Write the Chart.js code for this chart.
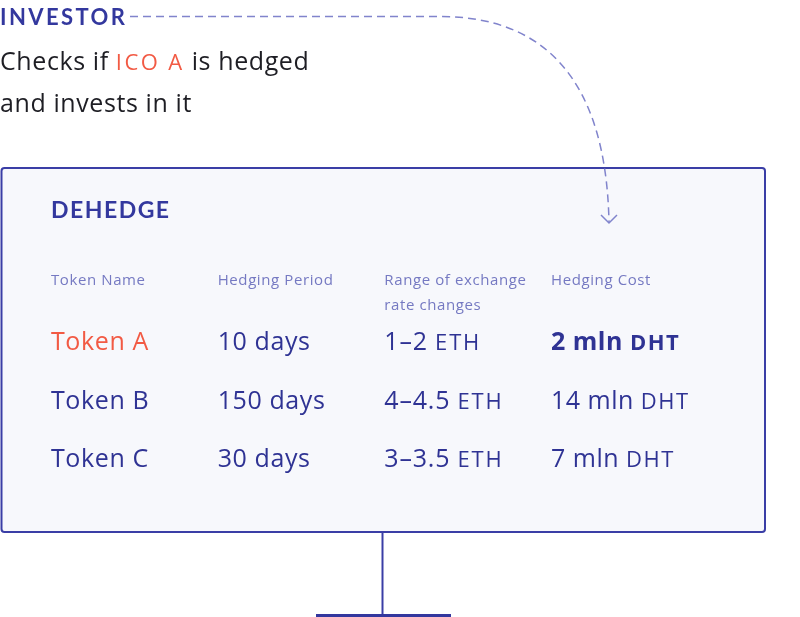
<!DOCTYPE html>
<html>
<head>
<meta charset="utf-8">
<script src="https://cdn.jsdelivr.net/npm/chart.js@4"></script>
<style>
  html, body { margin: 0; padding: 0; background: #ffffff; }
  #table { display: block; }
</style>
</head>
<body>
<canvas id="table" width="800" height="617"></canvas>
<script>
// table content
const columns = ['Token Name', 'Hedging Period', 'Range of exchange rate changes', 'Hedging Cost'];
const headerLines = [['Token Name'], ['Hedging Period'], ['Range of exchange', 'rate changes'], ['Hedging Cost']];
const tokens = ['Token A', 'Token B', 'Token C'];
const periodDays = [10, 150, 30];
const rangeLow = [1, 4, 3];
const rangeHigh = [2, 4.5, 3.5];
const costMln = [2, 14, 7];
const highlighted = 'Token A';

const FONT = '"Open Sans", Lato, sans-serif';
const HEAD = 'Lato, "Open Sans", sans-serif';
const BLUE = '#2f3394';
const LIGHT = '#7579c2';
const RED = '#f25a44';

// draw a list of [text, font, color, spacing] pieces one after another
function drawRun(ctx, x, y, pieces) {
    pieces.forEach(([text, font, color, spacing]) => {
        ctx.font = font;
        ctx.fillStyle = color;
        ctx.letterSpacing = (spacing || 0) + 'px';
        ctx.fillText(text, x, y);
        x += ctx.measureText(text).width;
    });
    ctx.letterSpacing = '0px';
    return x;
}

const frame = {
    id: 'frame',
    beforeDraw(chart) {
        const ctx = chart.ctx;
        ctx.save();
        // monitor box
        ctx.fillStyle = '#f7f8fc';
        ctx.strokeStyle = '#3a3ea6';
        ctx.lineWidth = 2;
        ctx.beginPath();
        ctx.roundRect(1.5, 168, 763.5, 364, 3);
        ctx.fill();
        ctx.stroke();
        // stand
        ctx.beginPath();
        ctx.moveTo(382.5, 533);
        ctx.lineTo(382.5, 615);
        ctx.stroke();
        ctx.fillStyle = '#33379e';
        ctx.fillRect(316, 614, 135, 3);

        // dashed arrow
        ctx.strokeStyle = '#8184cc';
        ctx.lineWidth = 1.5;
        ctx.setLineDash([8, 5]);
        ctx.beginPath();
        ctx.moveTo(130, 16.5);
        ctx.lineTo(440, 16.5);
        ctx.bezierCurveTo(545, 16.5, 606, 80, 609, 222);
        ctx.stroke();
        ctx.setLineDash([]);
        ctx.beginPath();
        ctx.moveTo(601, 215);
        ctx.lineTo(609, 223);
        ctx.lineTo(617, 215);
        ctx.stroke();

        // investor note
        ctx.textBaseline = 'alphabetic';
        ctx.textAlign = 'left';
        drawRun(ctx, 0, 25, [['INVESTOR', 'bold 22px ' + HEAD, '#33389e', 2.4]]);
        drawRun(ctx, 0, 70, [
            ['Checks if ', '25px ' + FONT, '#1e1e24', 0.6],
            ['ICO A', '22px ' + FONT, RED, 2.4],
            [' is hedged', '25px ' + FONT, '#1e1e24', 0.6]
        ]);
        drawRun(ctx, 0, 112, [['and invests in it', '25px ' + FONT, '#1e1e24', 0.6]]);
        drawRun(ctx, 51, 218, [['DEHEDGE', 'bold 23px ' + HEAD, '#33389e', 1.5]]);
        ctx.restore();
    },
    afterDraw(chart) {
        const ctx = chart.ctx;
        const xs = chart.scales.x;
        const ys = chart.scales.y;
        ctx.save();
        ctx.textBaseline = 'alphabetic';
        ctx.textAlign = 'left';
        // header row sits at category 0
        headerLines.forEach((lines, c) => {
            const x = xs.getPixelForValue(c);
            const y = ys.getPixelForValue(0) - 7;
            lines.forEach((line, k) => {
                drawRun(ctx, x, y + k * 25, [[line, '15px ' + FONT, LIGHT, 0.6]]);
            });
        });
        tokens.forEach((name, r) => {
            const y = ys.getPixelForValue(r + 1);
            const hot = name === highlighted;
            const main = '25px ' + FONT;
            drawRun(ctx, xs.getPixelForValue(0), y, [[name, main, hot ? RED : BLUE, 0.6]]);
            drawRun(ctx, xs.getPixelForValue(1), y, [[periodDays[r] + ' days', main, BLUE, 0.6]]);
            drawRun(ctx, xs.getPixelForValue(2), y, [
                [rangeLow[r] + '\u2013' + rangeHigh[r] + ' ', main, BLUE, 0.8],
                ['ETH', '22px ' + FONT, BLUE, 1.8]
            ]);
            const bold = hot ? 'bold ' : '';
            drawRun(ctx, xs.getPixelForValue(3), y, [
                [costMln[r] + ' mln ', bold + '25px ' + FONT, BLUE, 0.5],
                ['DHT', bold + '22px ' + FONT, BLUE, 1.5]
            ]);
        });
        ctx.restore();
    }
};

new Chart(
    document.getElementById('table'),
    {
        type: 'scatter',
        data: { datasets: [{ label: 'cells', data: [] }] },
        options: {
            responsive: false,
            animation: false,
            devicePixelRatio: 1,
            layout: { padding: { left: 51, right: 249, top: 292, bottom: 150 } },
            plugins: { legend: { display: false }, tooltip: { enabled: false } },
            scales: {
                x: { type: 'linear', min: 0, max: columns.length - 1, display: false },
                y: { type: 'category', labels: ['header', ...tokens], offset: false, display: false }
            }
        },
        plugins: [frame]
    }
);
</script>
</body>
</html>
